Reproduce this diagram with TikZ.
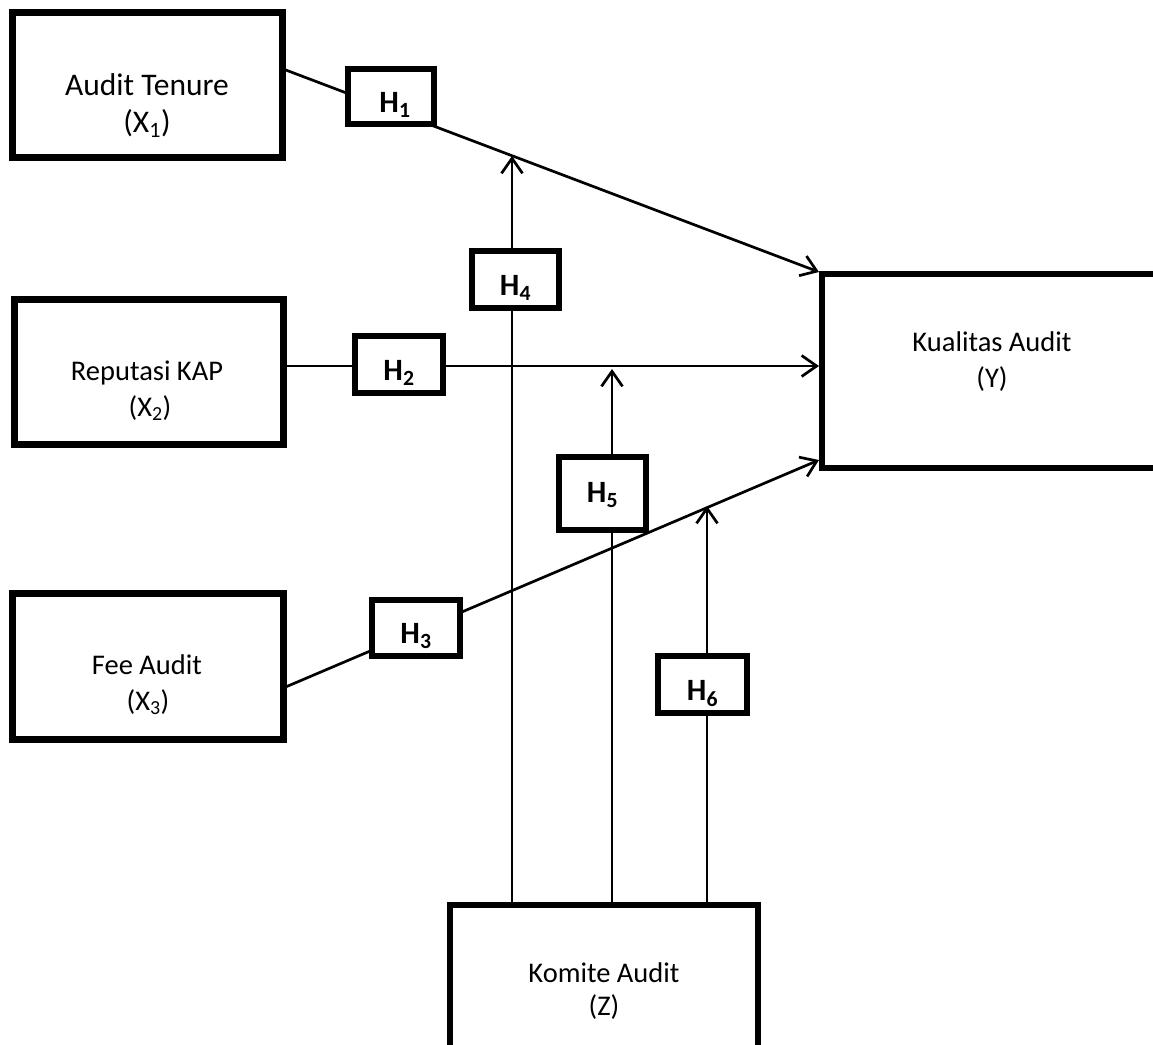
\documentclass[tikz,border=0pt]{standalone}
\usepackage{fontspec}
\setmainfont{Carlito}
\usetikzlibrary{arrows.meta,backgrounds}
\begin{document}
\begin{tikzpicture}[x=1pt,y=-1pt,
  bigbox/.style={draw, line width=6.5pt, fill=white, inner sep=0pt, rectangle},
  hbox/.style={draw, line width=6pt, fill=white, inner sep=0pt, rectangle},
  lbl/.style={font=\fontsize{28.5}{34}\selectfont, anchor=base, inner sep=0pt},
  biglbl/.style={font=\fontsize{31.5}{38}\selectfont, anchor=base, inner sep=0pt},
  hlbl/.style={font=\fontsize{31}{36}\selectfont\bfseries, anchor=base, inner sep=0pt},
  conn/.style={line width=2.7pt},
  arr/.style={conn, -{Straight Barb[length=15pt,width=21pt,line width=2.7pt]}}
]
\useasboundingbox (0,0) rectangle (1153,1044);
\clip (0,0) rectangle (1153,1044);

% main boxes
\node[bigbox, minimum width=270pt, minimum height=145pt] (at) at (147.5,85) {};
\node[bigbox, minimum width=269pt, minimum height=145pt] (rk) at (149,372) {};
\node[bigbox, minimum width=271pt, minimum height=146pt] (fa) at (148,666.5) {};
\node[bigbox, line width=6pt, minimum width=348pt, minimum height=194pt] (ka) at (996,371) {};
\node[bigbox, line width=6pt, minimum width=308pt, minimum height=155pt] (kz) at (604,982.5) {};

% box texts
\node[biglbl] (at1) at (147,95) {Audit Tenure};
\node[biglbl] (at2) at (147,132) {(X\textsubscript{1})};
\node[lbl] (rk1) at (147,380) {Reputasi KAP};
\node[lbl] (rk2) at (150,416) {(X\textsubscript{2})};
\node[lbl] (fa1) at (147,674) {Fee Audit};
\node[lbl] (fa2) at (148,710) {(X\textsubscript{3})};
\node[lbl] (ka1) at (992,351) {Kualitas Audit};
\node[lbl] (ka2) at (992,387) {(Y)};
\node[lbl] (kz1) at (604,982) {Komite Audit};
\node[lbl] (kz2) at (604,1015) {(Z)};

% hypothesis boxes
\node[hbox, minimum width=86pt, minimum height=55pt] (h1) at (391,96.5) {};
\node[hbox, minimum width=88pt, minimum height=57pt] (h2) at (399,364.5) {};
\node[hbox, minimum width=88pt, minimum height=56pt] (h3) at (416,628) {};
\node[hbox, minimum width=87pt, minimum height=57pt] (h4) at (515.5,279.5) {};
\node[hbox, minimum width=87pt, minimum height=73pt] (h5) at (602.5,493.5) {};
\node[hbox, minimum width=89pt, minimum height=57pt] (h6) at (702.5,684.5) {};

\node[hlbl] (h1t) at (395,112) {H\textsubscript{1}};
\node[hlbl] (h2t) at (399,380) {H\textsubscript{2}};
\node[hlbl] (h3t) at (416,643) {H\textsubscript{3}};
\node[hlbl] (h4t) at (515.5,295) {H\textsubscript{4}};
\node[hlbl] (h5t) at (602.5,502) {H\textsubscript{5}};
\node[hlbl] (h6t) at (702.5,700) {H\textsubscript{6}};

% arrow tips on the paths
\coordinate (t4) at (512,156);
\coordinate (t5) at (612,369);
\coordinate (t6) at (707,506);

\begin{scope}[on background layer]
\draw[arr] ([yshift=15pt]at.east) -- ([yshift=99pt]ka.west);
\draw[arr] ([yshift=6pt]rk.east) -- ([yshift=5pt]ka.west);
\draw[arr] ([yshift=-20pt]fa.east) -- ([yshift=-89pt]ka.west);
\draw[arr] (t4 |- kz.north) -- (t4);
\draw[arr] (t5 |- kz.north) -- (t5);
\draw[arr] (t6 |- kz.north) -- (t6);
\end{scope}
\end{tikzpicture}
\end{document}
